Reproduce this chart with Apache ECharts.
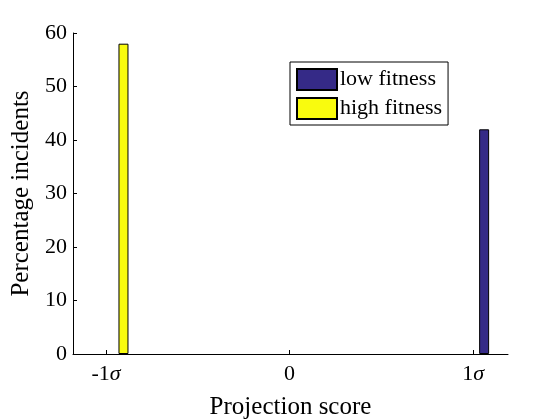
<!DOCTYPE html>
<html>
<head>
<meta charset="utf-8">
<script src="https://cdn.jsdelivr.net/npm/echarts@6/dist/echarts.min.js"></script>
<style>
  html, body { margin: 0; padding: 0; background: #fff; }
  #chart { width: 560px; height: 420px; }
</style>
</head>
<body>
<div id="chart"></div>
<script>
// data
var seriesNames = ['low fitness', 'high fitness'];
var lowX = [1.06];
var lowPct = [42];
var highX = [-0.905];
var highPct = [58];
var xTicks = [-1, 0, 1];

var serif = 'Liberation Serif';

function pairs(xs, ys) {
  var out = [];
  for (var i = 0; i < xs.length; i++) {
    out.push([xs[i], ys[i]]);
  }
  return out;
}

var myChart = echarts.init(document.getElementById('chart'));
var option = {
  animation: false,
  backgroundColor: '#fff',
  grid: { left: 73, right: 52, top: 33, bottom: 66, outerBoundsMode: 'none', containLabel: false },
  legend: {
    left: 290,
    top: 62,
    orient: 'vertical',
    itemWidth: 40,
    itemHeight: 21,
    itemGap: 6,
    padding: [6, 6, 5, 6],
    backgroundColor: '#fff',
    borderColor: '#000',
    borderWidth: 1,
    borderRadius: 0,
    icon: 'rect',
    textStyle: { fontFamily: serif, fontSize: 22, color: '#000', padding: [0, 0, 0, -2] },
    data: seriesNames
  },
  xAxis: {
    type: 'value',
    min: -1.18,
    max: 1.19,
    name: 'Projection score',
    nameLocation: 'middle',
    nameGap: 41,
    nameTextStyle: { fontFamily: serif, fontSize: 25, color: '#000' },
    axisLine: { onZero: false, lineStyle: { color: '#000', width: 1 } },
    axisTick: { inside: true, length: 4, customValues: xTicks, lineStyle: { color: '#000' } },
    axisLabel: {
      customValues: xTicks,
      margin: 9,
      fontFamily: serif,
      fontSize: 22,
      color: '#000',
      formatter: function (v) {
        if (v === 0) return '0';
        return (v < 0 ? '-' : '') + Math.abs(v) + '{s|σ}';
      },
      rich: { s: { fontFamily: serif, fontStyle: 'italic', fontSize: 22, color: '#000' } }
    },
    splitLine: { show: false }
  },
  yAxis: {
    type: 'value',
    min: 0,
    max: 60,
    interval: 10,
    name: 'Percentage incidents',
    nameLocation: 'middle',
    nameGap: 34,
    nameTextStyle: { fontFamily: serif, fontSize: 25, color: '#000' },
    axisLine: { show: true, onZero: false, lineStyle: { color: '#000', width: 1 } },
    axisTick: { show: true, inside: true, length: 4, lineStyle: { color: '#000' } },
    axisLabel: { margin: 6, fontFamily: serif, fontSize: 22, color: '#000' },
    splitLine: { show: false }
  },
  series: [
    {
      name: seriesNames[0],
      type: 'bar',
      barWidth: 10,
      barGap: '-100%',
      itemStyle: { color: '#352a87', borderColor: '#000', borderWidth: 1 },
      data: pairs(lowX, lowPct)
    },
    {
      name: seriesNames[1],
      type: 'bar',
      barWidth: 10,
      barGap: '-100%',
      itemStyle: { color: '#f9fb0e', borderColor: '#000', borderWidth: 1 },
      data: pairs(highX, highPct)
    }
  ]
};
myChart.setOption(option);
window.addEventListener('resize', function () {
  myChart.resize();
});
</script>
</body>
</html>
